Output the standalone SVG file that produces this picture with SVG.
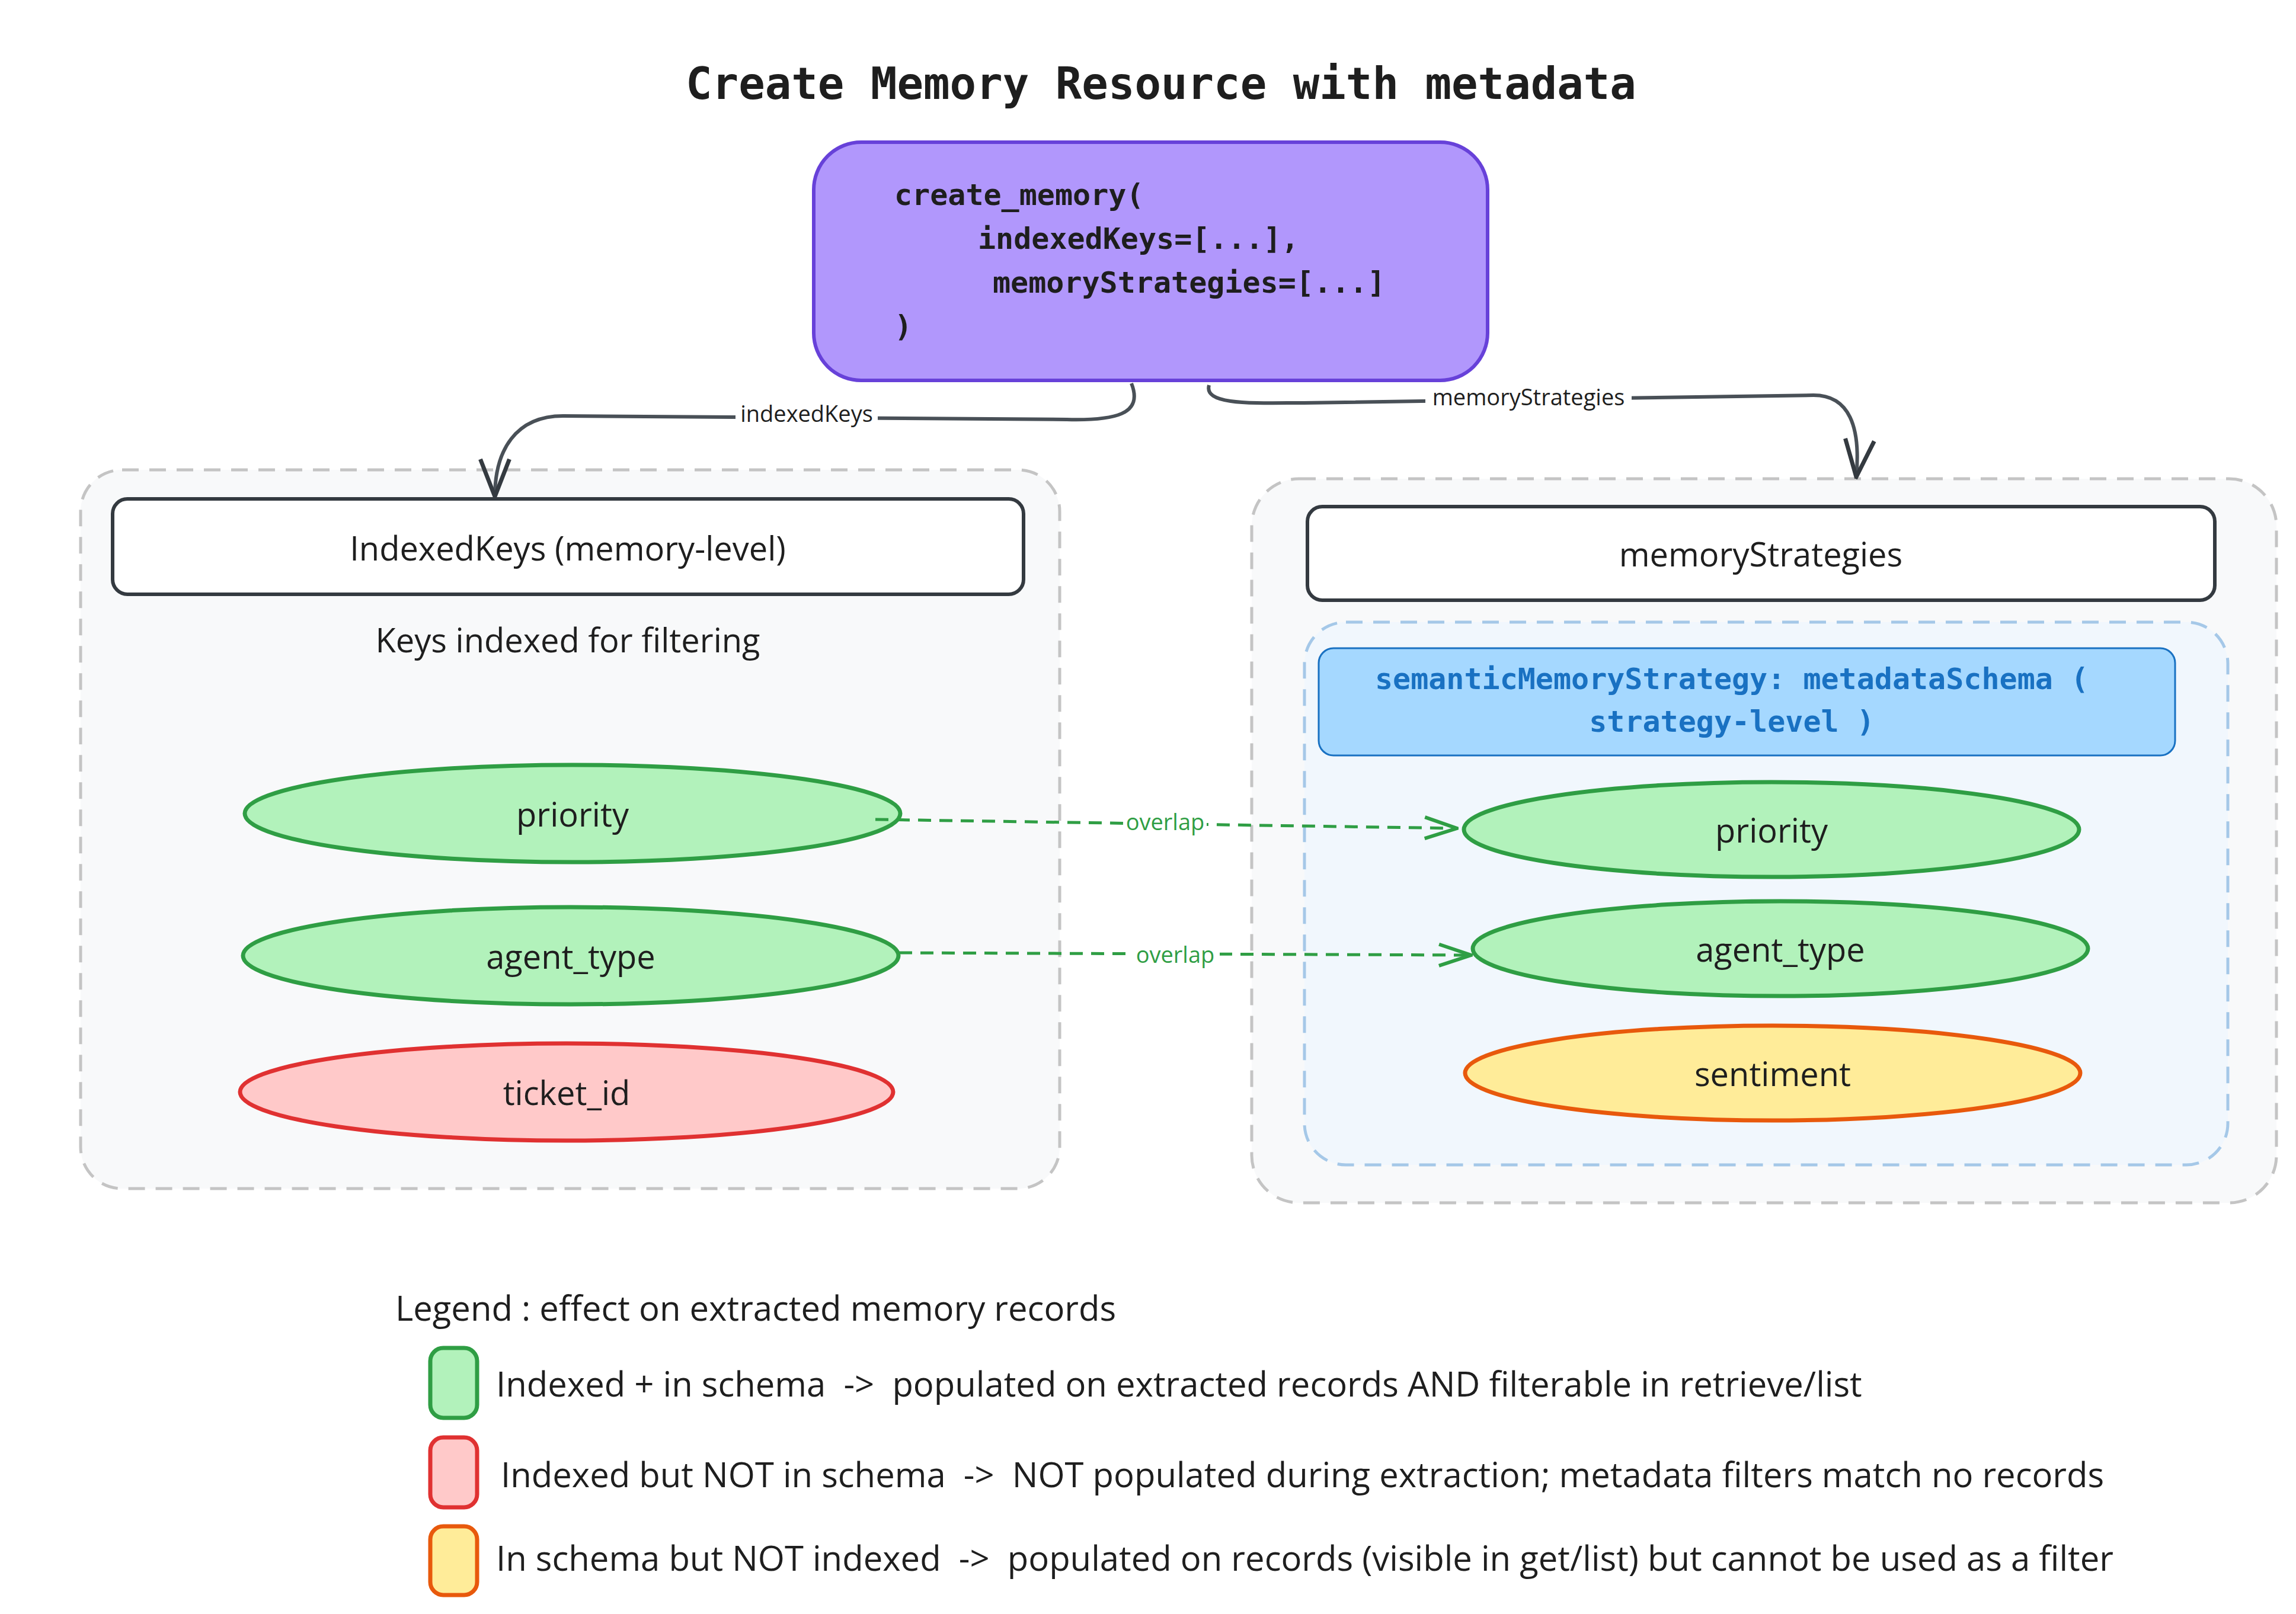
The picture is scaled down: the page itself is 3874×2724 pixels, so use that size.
<svg xmlns="http://www.w3.org/2000/svg" width="3874" height="2724" viewBox="0 0 3874 2724">
<style>
text{font-family:"Open Sans","Liberation Sans",Arial,sans-serif;fill:#1e1e1e}
.hand{font-family:"DejaVu Sans Mono",monospace;font-weight:bold}
.t{font-size:56px;text-anchor:middle;dominant-baseline:central}
.gr{fill:#b2f2bb;stroke:#2f9e44;stroke-width:7}
.rd{fill:#ffc9c9;stroke:#e03131;stroke-width:7}
.yl{fill:#ffec99;stroke:#e8590c;stroke-width:7}
.cont{fill:#f8f9fa;stroke:#c4c4c4;stroke-width:5;stroke-dasharray:28 18}
.hdr{fill:#fff;stroke:#343a40;stroke-width:6}
.lbl{font-size:38px;text-anchor:middle;dominant-baseline:central}
.ov{fill:#2f9e44}
.lg{font-size:58px;dominant-baseline:central}
</style>
<defs>
<marker id="ag" viewBox="0 0 40 40" refX="38" refY="20" markerWidth="60" markerHeight="60" markerUnits="userSpaceOnUse" orient="auto"><path d="M2,8 L38,20 L2,32" fill="none" stroke="#2f9e44" stroke-width="4"/></marker>
<marker id="ak" viewBox="0 0 40 40" refX="38" refY="20" markerWidth="70" markerHeight="70" markerUnits="userSpaceOnUse" orient="auto"><path d="M2,6 L38,20 L2,34" fill="none" stroke="#343a40" stroke-width="4"/></marker>
</defs>
<rect width="3874" height="2724" fill="#fff"/>
<text id="title" class="hand" x="1959" y="141" font-size="74" text-anchor="middle" dominant-baseline="central">Create Memory Resource with metadata</text>
<g id="create">
<rect x="1373" y="240" width="1137" height="402" rx="80" fill="#b197fc" stroke="#6741d9" stroke-width="6"/>
<text class="hand" font-size="50" x="1509" y="329" dominant-baseline="central">create_memory(</text>
<text class="hand" font-size="50" x="1650" y="403" dominant-baseline="central">indexedKeys=[...],</text>
<text class="hand" font-size="50" x="1675" y="477" dominant-baseline="central">memoryStrategies=[...]</text>
<text class="hand" font-size="50" x="1509" y="551" dominant-baseline="central">)</text>
</g>
<g id="left">
<rect class="cont" x="136" y="793" width="1652" height="1213" rx="70"/>
<rect class="hdr" x="190" y="842" width="1537" height="161" rx="25"/>
<text class="t" x="958" y="924">IndexedKeys (memory-level)</text>
<text class="t" x="958" y="1079">Keys indexed for filtering</text>
</g>
<g id="lp"><ellipse class="gr" cx="966" cy="1373" rx="553" ry="82"/><text class="t" x="966" y="1373">priority</text></g>
<g id="la"><ellipse class="gr" cx="963" cy="1613" rx="553" ry="82"/><text class="t" x="963" y="1613">agent_type</text></g>
<g id="lt"><ellipse class="rd" cx="956" cy="1843" rx="551" ry="82"/><text class="t" x="956" y="1843">ticket_id</text></g>
<g id="right">
<rect class="cont" x="2112" y="808" width="1729" height="1222" rx="80"/>
<rect class="hdr" x="2206" y="855" width="1531" height="158" rx="25"/>
<text class="t" x="2971" y="934">memoryStrategies</text>
<rect x="2201" y="1050" width="1558" height="916" rx="70" fill="#f1f7fd" stroke="#a5c8e8" stroke-width="5" stroke-dasharray="28 18"/>
</g>
<g id="sem">
<rect x="2225" y="1094" width="1445" height="181" rx="25" fill="#a5d8ff" stroke="#1971c2" stroke-width="3"/>
<text class="hand" font-size="50" style="fill:#1971c2" x="2922" y="1146" text-anchor="middle" dominant-baseline="central">semanticMemoryStrategy: metadataSchema (</text>
<text class="hand" font-size="50" style="fill:#1971c2" x="2922" y="1218" text-anchor="middle" dominant-baseline="central">strategy-level )</text>
</g>
<g id="rp"><ellipse class="gr" cx="2989" cy="1400" rx="519" ry="80"/><text class="t" x="2989" y="1400">priority</text></g>
<g id="ra"><ellipse class="gr" cx="3004" cy="1601" rx="519" ry="80"/><text class="t" x="3004" y="1601">agent_type</text></g>
<g id="rs"><ellipse class="yl" cx="2991" cy="1811" rx="519" ry="80"/><text class="t" x="2991" y="1811">sentiment</text></g>
<g id="connectors" fill="none">
<path d="M1477,1383 L2458,1398" stroke="#2f9e44" stroke-width="5" stroke-dasharray="22 14" marker-end="url(#ag)"/>
<path d="M1517,1608 L2482,1612" stroke="#2f9e44" stroke-width="5" stroke-dasharray="22 14" marker-end="url(#ag)"/>
<path d="M1909,647 C1930,700 1880,710 1800,708 L950,702 C870,702 835,760 835,838" stroke="#495057" stroke-width="6" marker-end="url(#ak)"/>
<path d="M2040,650 C2030,685 2120,680 2200,680 L3060,667 C3120,667 3140,720 3132,805" stroke="#495057" stroke-width="6" marker-end="url(#ak)"/>
<rect x="1896" y="1366" width="140" height="40" fill="#fff"/>
<rect x="1908" y="1590" width="150" height="40" fill="#fff"/>
<rect x="1241" y="677" width="240" height="40" fill="#fff"/>
<rect x="2405" y="649" width="348" height="40" fill="#fff"/>
<text class="lbl ov" x="1966" y="1386">overlap</text>
<text class="lbl ov" x="1983" y="1610">overlap</text>
<text class="lbl" x="1361" y="697" font-size="36">indexedKeys</text>
<text class="lbl" x="2579" y="669" font-size="36">memoryStrategies</text>
</g>
<g id="legend">
<text class="lg" x="667" y="2206">Legend : effect on extracted memory records</text>
<rect class="gr" x="726" y="2275" width="79" height="118" rx="22"/>
<rect class="rd" x="726" y="2426" width="79" height="118" rx="22"/>
<rect class="yl" x="726" y="2576" width="79" height="116" rx="22"/>
<text class="lg" x="837" y="2334" xml:space="preserve">Indexed + in schema  -&gt;  populated on extracted records AND filterable in retrieve/list</text>
<text class="lg" x="845" y="2487" xml:space="preserve">Indexed but NOT in schema  -&gt;  NOT populated during extraction; metadata filters match no records</text>
<text class="lg" x="837" y="2628" xml:space="preserve">In schema but NOT indexed  -&gt;  populated on records (visible in get/list) but cannot be used as a filter</text>
</g>
</svg>
